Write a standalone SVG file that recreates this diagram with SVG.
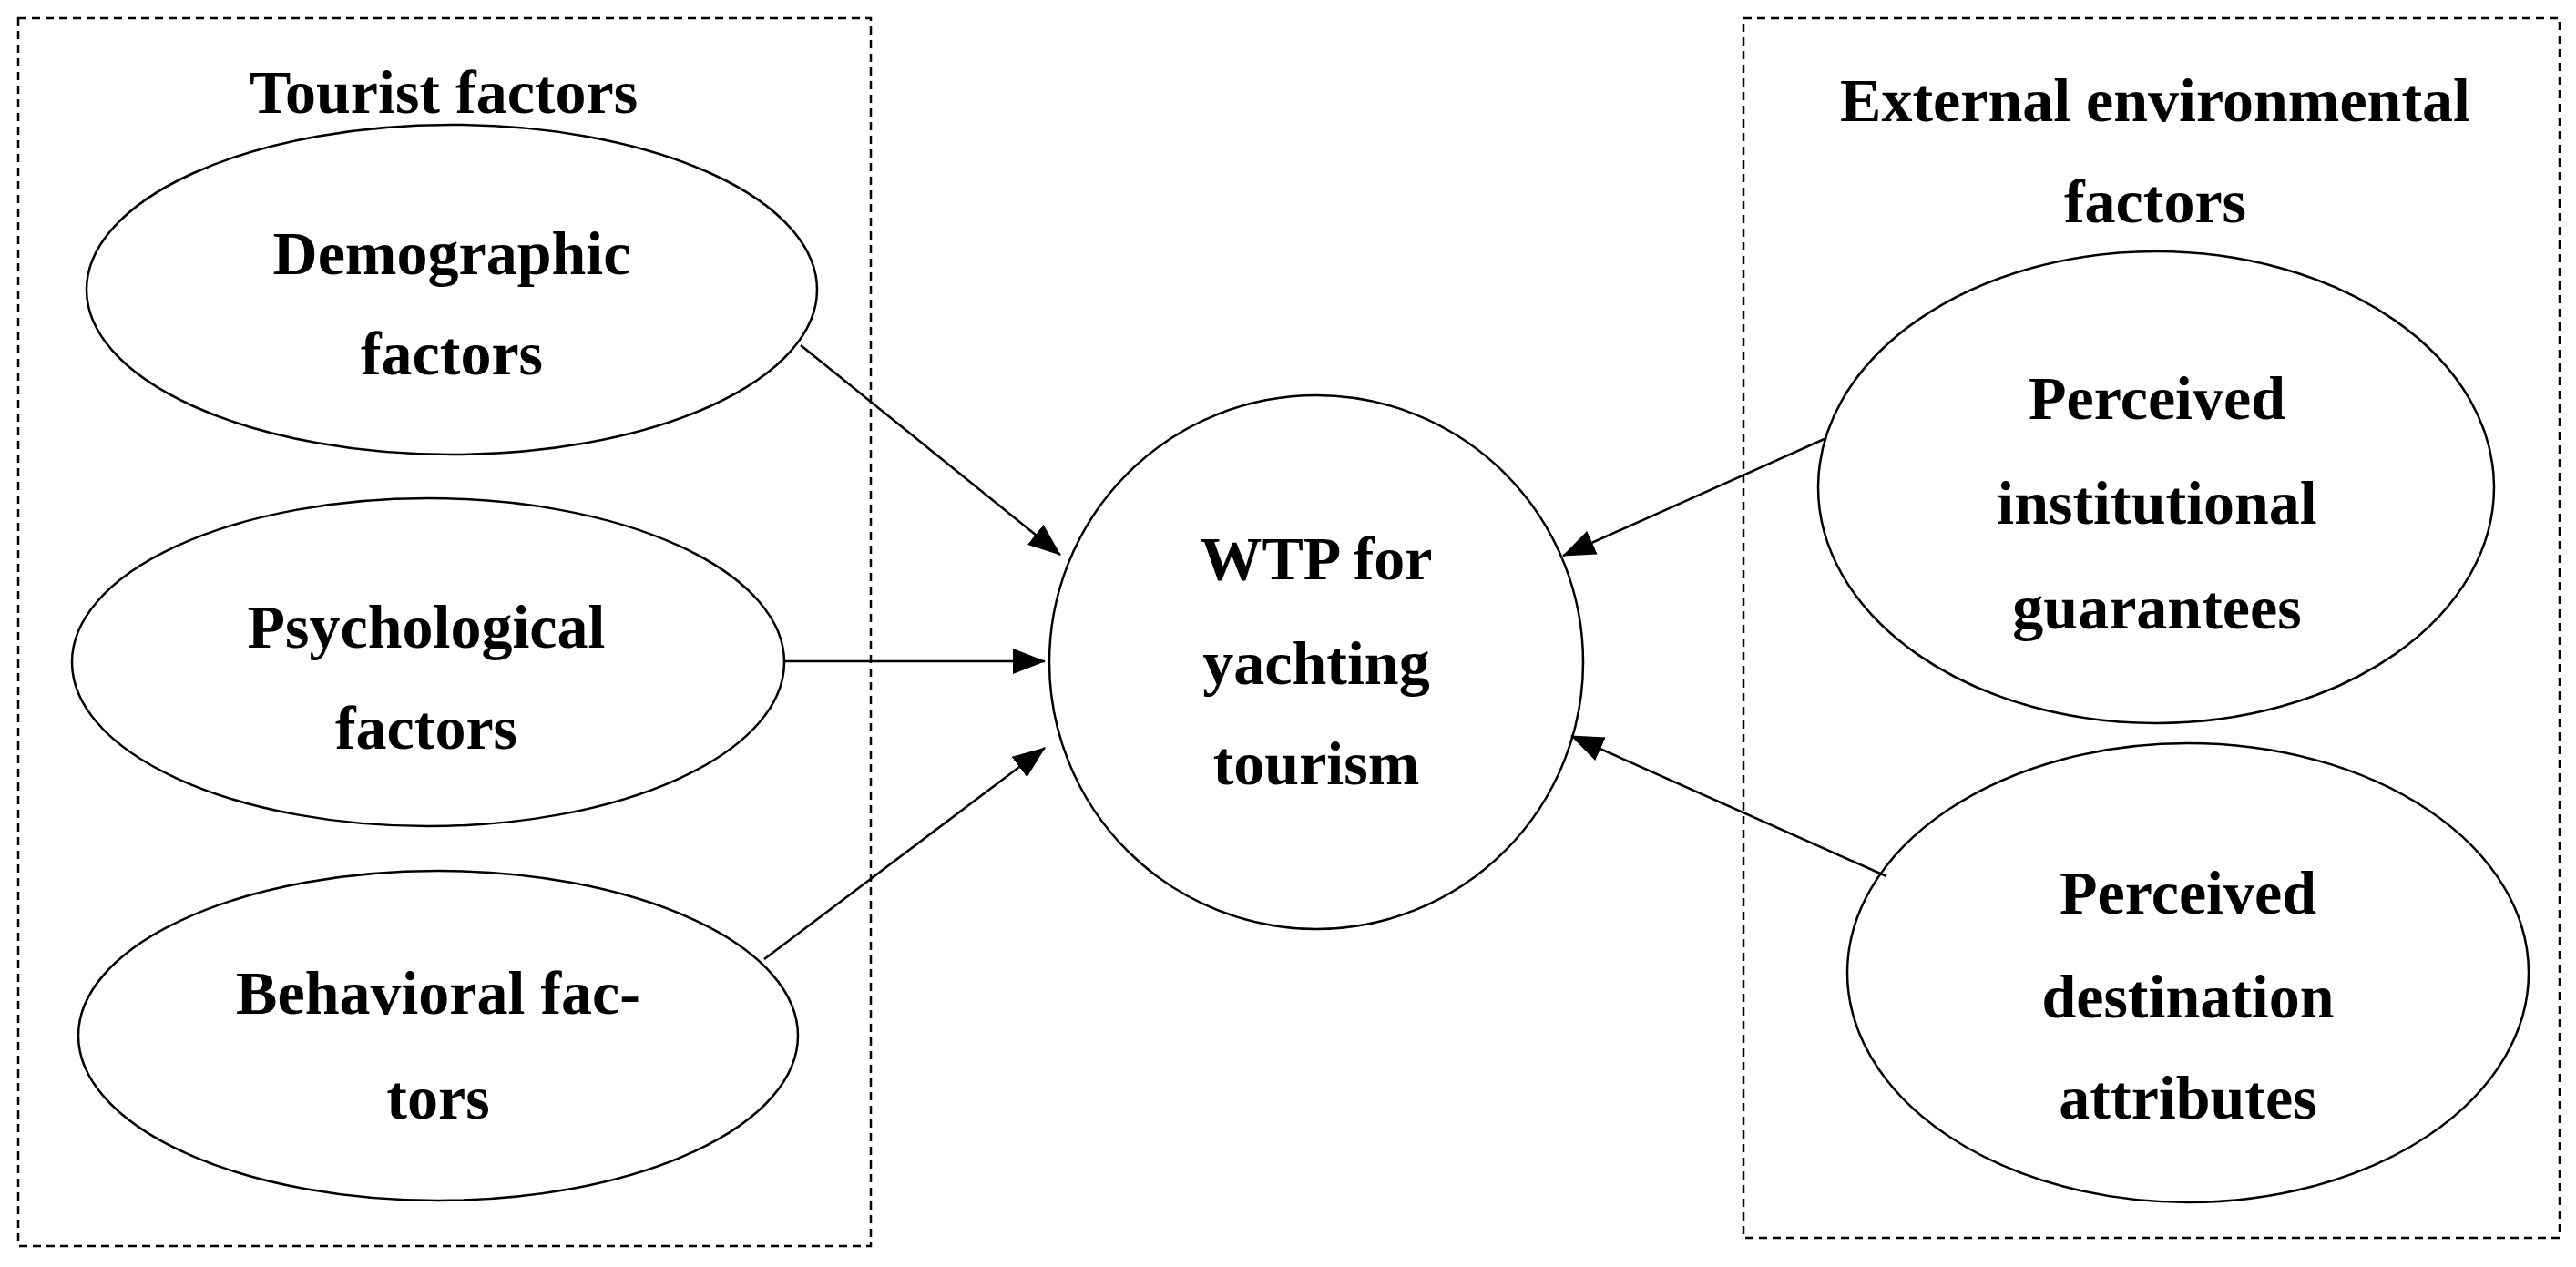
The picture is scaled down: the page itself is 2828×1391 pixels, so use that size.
<svg xmlns="http://www.w3.org/2000/svg" width="2828" height="1391" viewBox="0 0 2828 1391">
<style>
.box{fill:none;stroke:#000;stroke-width:2.5;stroke-dasharray:9 6}
.n{fill:#fff;stroke:#000;stroke-width:2.5}
text{font-family:"Liberation Serif","DejaVu Serif",serif;font-weight:bold;font-size:68px;text-anchor:middle;dominant-baseline:central;fill:#000}
.c line{stroke:#000;stroke-width:2.5}
</style>
<defs><marker id="a" markerWidth="36" markerHeight="28" refX="35" refY="14" orient="auto" markerUnits="userSpaceOnUse" viewBox="0 0 36 28"><path d="M0,0L36,14L0,28Z" fill="#000"/></marker></defs>
<rect width="2828" height="1391" fill="#fff"/>
<g id="tourist-group"><rect class="box" x="20" y="20" width="936" height="1348"/><text x="487" y="101">Tourist factors</text></g>
<g id="external-group"><rect class="box" x="1914" y="20" width="896" height="1339"/><text x="2366" y="110">External environmental</text><text x="2366" y="221">factors</text></g>
<g id="demographic"><ellipse class="n" cx="496" cy="318" rx="401" ry="181"/><text x="496" y="278">Demographic</text><text x="496" y="388">factors</text></g>
<g id="psychological"><ellipse class="n" cx="470" cy="727" rx="391" ry="180"/><text x="468" y="688">Psychological</text><text x="468" y="799">factors</text></g>
<g id="behavioral"><ellipse class="n" cx="481" cy="1137" rx="395" ry="181"/><text x="481" y="1090">Behavioral fac-</text><text x="481" y="1205">tors</text></g>
<g id="wtp"><circle class="n" cx="1445" cy="727" r="293"/><text x="1445" y="613">WTP for</text><text x="1445" y="728">yachting</text><text x="1445" y="838">tourism</text></g>
<g id="institutional"><ellipse class="n" cx="2367" cy="535" rx="371" ry="259"/><text x="2368" y="437">Perceived</text><text x="2368" y="552">institutional</text><text x="2368" y="667">guarantees</text></g>
<g id="destination"><ellipse class="n" cx="2402" cy="1068" rx="374" ry="252"/><text x="2402" y="980">Perceived</text><text x="2402" y="1094">destination</text><text x="2402" y="1205">attributes</text></g>
<g class="c" id="connectors">
<line x1="879" y1="379" x2="1164" y2="609" marker-end="url(#a)"/>
<line x1="861" y1="726" x2="1147" y2="726" marker-end="url(#a)"/>
<line x1="839" y1="1053" x2="1147" y2="821" marker-end="url(#a)"/>
<line x1="2005" y1="481" x2="1716" y2="610" marker-end="url(#a)"/>
<line x1="2071" y1="962" x2="1725" y2="808" marker-end="url(#a)"/>
</g>
</svg>
